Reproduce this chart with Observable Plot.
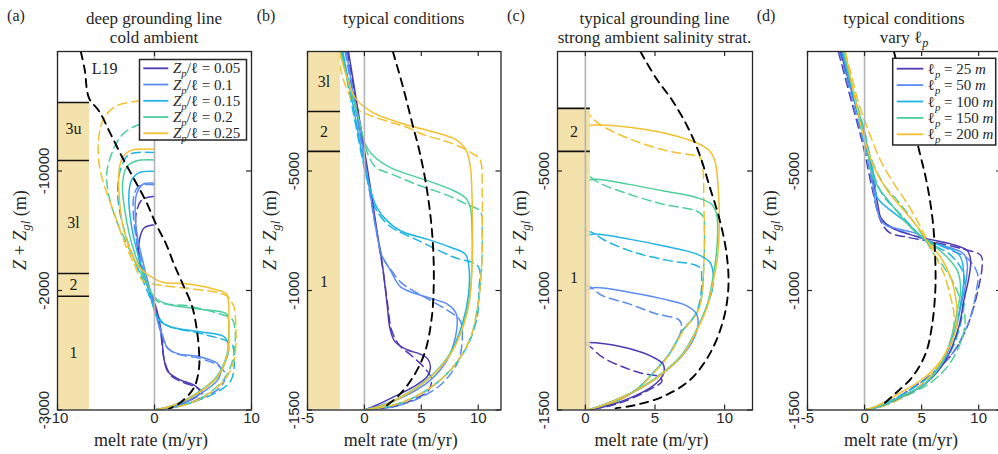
<!DOCTYPE html>
<html><head><meta charset="utf-8">
<script src="https://cdn.jsdelivr.net/npm/d3@7"></script>
<script src="https://cdn.jsdelivr.net/npm/@observablehq/plot@0.6"></script>
<style>
body{margin:0;background:#fff;width:998px;height:454px;overflow:hidden;}
#wrap{position:relative;width:998px;height:454px;overflow:hidden;}
#wrap svg{position:absolute;top:0;}
</style></head><body><div id="wrap"></div>
<script>
// ---------------- data ----------------
const seriesA = ["0.05","0.1","0.15","0.2","0.25"];       // Z_p / ell
const seriesD = ["25","50","100","150","200"];            // ell_p (m)
const titles = [["deep grounding line","cold ambient"],["typical conditions"],["typical grounding line","strong ambient salinity strat."],["typical conditions","vary "]];
const letters = ["(a)","(b)","(c)","(d)"];
const xLabel = "melt rate (m/yr)";

// ticks
const aXTicks = [-10,0,10], aYTicks = [-3000,-2000,-1000], aYLabels = ["-3000","-2000","-10000"];
const bXTicks = [-5,0,5,10], bYTicks = [-1500,-1000,-500], bYLabels = ["-1500","-1000","-5000"];
const cXTicks = [0,5,10],   cYTicks = [-1500,-1000,-500], cYLabels = ["-1500","-1000","-5000"];
const dXTicks = [-5,0,5,10], dYTicks = [-1500,-1000,-500], dYLabels = ["-1500","-1000","-5000"];

// ice layers (bars)
const aBarX = [-10,-6.7], aBarTop = -427, aBarBottom = -3000;
const aLayerEdges = [-427,-912,-1858,-2048], aLayerNames = ["3u","3l","2","1"], aLayerMid = [-644,-1431,-1950,-2519];
const bBarX = [-5,-2.1], bBarTop = 0, bBarBottom = -1500;
const bLayerEdges = [-251,-418], bLayerNames = ["3l","2","1"], bLayerMid = [-126,-335,-966];
const cBarX = [-2,0.36], cBarTop = -238, cBarBottom = -1500;
const cLayerEdges = [-238,-418], cLayerNames = ["2","1"], cLayerMid = [-335,-946];

// L19 reference curves [melt, depth]
const aL19 = [[-7.6,0],[-7.2,-150],[-6.75,-390],[-5.7,-500],[-4.5,-694],[-3.3,-889],[-2.1,-1069],[-0.9,-1250],[0.15,-1444],[1.2,-1611],[2.0,-1778],[2.9,-1944],[3.9,-2139],[4.4,-2350],[4.6,-2525],[4.6,-2642],[4.1,-2808],[2.75,-2933],[1.5,-2990]];
const bL19 = [[2.5,0],[3.4,-150],[4.2,-300],[4.9,-430],[5.5,-580],[5.95,-760],[6.1,-950],[5.9,-1120],[5.3,-1260],[4.3,-1360],[3.0,-1440],[1.7,-1490]];
const cL19 = [[3.95,0],[5.07,-111],[6.28,-208],[7.37,-319],[8.2,-431],[8.94,-569],[9.66,-708],[10.14,-847],[10.27,-986],[9.9,-1125],[8.94,-1264],[7.5,-1375],[5.56,-1444],[3.6,-1479],[2.17,-1493]];
const dL19 = [[2.57,0],[3.7,-210],[4.8,-417],[5.5,-560],[6.0,-720],[6.2,-880],[6.2,-1000],[5.9,-1150],[5.35,-1264],[4.2,-1361],[2.7,-1431],[1.55,-1480]];
const aL19Label = [{t:"L19", x:-5.13, y:-142}];

// panel (a)
const aSolid = [
 [[0,-1450],[-1.05,-1475],[-1.5,-1556],[-1.6,-1722],[-1.05,-1889],[0.15,-2139],[0.67,-2333],[1.0,-2583],[1.4,-2680],[2.7,-2750],[4.1,-2792],[4.6,-2833],[4.45,-2880],[3.1,-2935],[1.7,-2975],[0,-3000]],
 [[0,-1103],[-1.2,-1111],[-1.85,-1194],[-2.0,-1333],[-1.75,-1556],[-1.05,-1806],[-0.35,-2028],[0.33,-2250],[1.0,-2417],[1.35,-2486],[2.4,-2528],[4.8,-2556],[6.5,-2611],[6.85,-2660],[6.5,-2750],[4.8,-2861],[2.4,-2958],[0,-3000]],
 [[0,-1003],[-1.57,-1014],[-2.4,-1083],[-2.65,-1222],[-2.4,-1444],[-1.9,-1639],[-1.2,-1833],[-0.55,-2000],[0,-2167],[0.5,-2250],[1.7,-2306],[4.8,-2347],[7.2,-2389],[7.65,-2472],[7.3,-2600],[6.3,-2740],[4.3,-2865],[2.0,-2960],[0,-3000]],
 [[0,-908],[-1.9,-917],[-2.9,-972],[-3.3,-1111],[-3.1,-1306],[-2.6,-1528],[-1.9,-1722],[-0.9,-1917],[0,-2056],[1.2,-2111],[4.3,-2153],[7.4,-2194],[7.65,-2250],[7.65,-2333],[7.5,-2525],[6.4,-2722],[4.35,-2861],[2.0,-2958],[0,-3000]],
 [[0,-819],[-2.6,-833],[-3.45,-917],[-3.7,-1056],[-3.6,-1250],[-3.3,-1444],[-2.6,-1639],[-1.57,-1806],[-0.55,-1875],[0.85,-1931],[3.25,-1944],[6.0,-1986],[7.4,-2028],[7.65,-2111],[7.65,-2250],[7.55,-2525],[6.5,-2722],[4.45,-2861],[2.05,-2958],[0,-3000]]
];
const aDashed = [
 [[0,-1214],[-0.55,-1217],[-1.4,-1250],[-1.9,-1361],[-1.9,-1500],[-1.6,-1722],[-1.0,-1889],[0.1,-2139],[0.6,-2333],[1.1,-2610],[1.8,-2720],[3.0,-2770],[4.3,-2810],[4.9,-2850],[4.6,-2905],[3.3,-2948],[1.8,-2980],[0,-3000]],
 [[0,-1115],[-1.57,-1125],[-2.1,-1200],[-2.2,-1333],[-1.9,-1556],[-1.2,-1806],[-0.5,-2028],[0.3,-2250],[1.0,-2440],[2.0,-2520],[4.8,-2570],[6.6,-2630],[7.3,-2700],[6.9,-2800],[5.2,-2890],[2.8,-2965],[0,-3000]],
 [[0,-845],[-2.6,-861],[-3.45,-972],[-3.8,-1167],[-3.6,-1333],[-2.9,-1556],[-1.9,-1778],[-0.9,-1972],[-0.2,-2111],[1.0,-2278],[4.8,-2361],[7.9,-2444],[8.2,-2528],[7.9,-2750],[6.2,-2861],[3.4,-2944],[0,-3000]],
 [[0,-600],[-1.57,-611],[-3.3,-694],[-4.3,-833],[-4.9,-1000],[-4.8,-1167],[-4.0,-1400],[-2.9,-1600],[-1.9,-1778],[-0.9,-1930],[0.3,-2090],[3.5,-2130],[6.5,-2190],[8.0,-2240],[8.3,-2330],[8.3,-2450],[8.0,-2600],[7.1,-2750],[5.0,-2890],[2.6,-2967],[0,-3000]],
 [[0,-408],[-1.9,-417],[-3.97,-458],[-5.2,-556],[-5.75,-722],[-5.7,-944],[-5.0,-1167],[-4.1,-1361],[-3.3,-1556],[-2.1,-1778],[-1.2,-1917],[0.85,-1958],[3.9,-1986],[7.4,-2042],[8.05,-2111],[8.2,-2139],[8.4,-2333],[8.2,-2583],[7.2,-2750],[5.1,-2889],[2.7,-2967],[0,-3000]]
];

// panel (b)
const bSolid = [
 [[-1.4,0],[-0.55,-250],[0.3,-500],[1.1,-750],[1.6,-900],[2.0,-1060],[2.25,-1160],[2.7,-1215],[3.75,-1248],[4.9,-1266],[5.55,-1285],[5.8,-1322],[5.5,-1361],[4.3,-1403],[2.6,-1444],[1.1,-1479],[0,-1500]],
 [[-1.6,0],[-0.7,-250],[0.2,-500],[1.05,-750],[1.5,-850],[2.3,-917],[3.2,-986],[5.5,-1028],[7.25,-1056],[8.0,-1090],[8.15,-1118],[8.0,-1194],[7.25,-1292],[5.8,-1375],[4.0,-1431],[2.0,-1472],[0.5,-1493],[0,-1500]],
 [[-1.9,0],[-0.9,-250],[0.1,-500],[0.8,-620],[1.1,-653],[1.7,-694],[3.16,-750],[5.5,-785],[7.55,-819],[8.86,-847],[9.15,-889],[9.15,-1014],[8.6,-1140],[7.45,-1270],[5.7,-1365],[3.7,-1433],[1.7,-1480],[0,-1500]],
 [[-2.1,0],[-1.5,-111],[-0.5,-280],[0.09,-389],[0.68,-431],[2.28,-486],[5.2,-535],[7.55,-576],[8.86,-611],[9.3,-653],[9.45,-736],[9.45,-900],[9.2,-1040],[8.7,-1140],[7.55,-1264],[5.8,-1361],[3.75,-1431],[1.7,-1479],[0,-1500]],
 [[-2.2,0],[-1.6,-100],[-0.8,-195],[0.8,-257],[3.4,-302],[6.0,-336],[8.0,-368],[8.9,-410],[9.3,-480],[9.45,-600],[9.5,-750],[9.45,-900],[9.25,-1040],[8.75,-1140],[7.6,-1264],[5.85,-1361],[3.8,-1431],[1.75,-1479],[0,-1500]]
];
const bDashed = [
 [[-1.5,0],[-0.6,-250],[0.25,-500],[1.1,-760],[1.65,-920],[2.1,-1080],[2.35,-1160],[3.0,-1225],[4.2,-1275],[5.2,-1320],[5.9,-1370],[5.6,-1420],[4.4,-1455],[2.6,-1485],[0,-1500]],
 [[-1.7,0],[-0.75,-250],[0.15,-500],[1.05,-750],[1.6,-860],[2.2,-905],[3.3,-970],[5.0,-1020],[7.2,-1080],[8.4,-1125],[8.6,-1200],[8.2,-1300],[6.8,-1390],[4.6,-1455],[2.2,-1490],[0,-1500]],
 [[-2.0,0],[-1.0,-250],[0.05,-500],[0.7,-620],[1.0,-660],[2.2,-730],[4.7,-790],[7.8,-860],[10.0,-900],[10.05,-1000],[9.9,-1111],[9.0,-1236],[7.55,-1333],[5.5,-1417],[3.16,-1472],[1.1,-1493],[0,-1500]],
 [[-2.2,0],[-1.4,-120],[-0.3,-330],[0.4,-440],[1.0,-485],[2.5,-515],[4.5,-555],[7.2,-600],[9.0,-640],[10.2,-670],[10.35,-750],[10.3,-900],[10.0,-1050],[9.3,-1200],[7.8,-1320],[5.7,-1410],[3.3,-1468],[1.2,-1492],[0,-1500]],
 [[-2.4,0],[-1.8,-125],[-0.6,-240],[0.23,-262],[2.0,-292],[3.75,-317],[5.2,-348],[7.25,-377],[8.7,-405],[9.6,-430],[10.15,-450],[10.35,-600],[10.35,-750],[10.3,-900],[10.0,-1050],[9.3,-1200],[7.8,-1320],[5.7,-1410],[3.3,-1468],[1.2,-1492],[0,-1500]]
];

// panel (c)
const cSolid = [
 [[0,-1218],[0.72,-1219],[3.14,-1243],[4.83,-1278],[5.56,-1306],[5.67,-1333],[5.5,-1361],[4.83,-1400],[3.6,-1440],[1.93,-1477],[0.6,-1496],[0,-1500]],
 [[0,-1000],[0.6,-988],[3.14,-1007],[5.56,-1035],[7.25,-1063],[7.97,-1097],[8.1,-1139],[7.8,-1200],[7.0,-1270],[5.8,-1336],[4.1,-1405],[2.17,-1459],[0.72,-1490],[0,-1500]],
 [[0,-771],[0.72,-764],[3.14,-785],[5.56,-813],[7.97,-847],[8.94,-882],[9.18,-931],[9.1,-1000],[8.7,-1069],[7.97,-1167],[7.0,-1264],[5.8,-1333],[4.1,-1403],[2.17,-1458],[0.72,-1490],[0,-1500]],
 [[0,-542],[0.72,-535],[3.14,-556],[5.56,-583],[7.97,-611],[9.06,-639],[9.42,-681],[9.5,-750],[9.4,-850],[9.18,-940],[8.7,-1069],[7.97,-1167],[7.0,-1264],[5.8,-1333],[4.1,-1403],[2.17,-1458],[0.72,-1490],[0,-1500]],
 [[0,-313],[0.72,-308],[3.14,-317],[5.56,-340],[7.97,-382],[8.94,-417],[9.3,-458],[9.54,-569],[9.6,-764],[9.45,-880],[9.22,-950],[8.75,-1069],[8.0,-1167],[7.05,-1264],[5.85,-1333],[4.15,-1403],[2.2,-1458],[0.75,-1490],[0,-1500]]
];
const cDashed = [
 [[0,-1225],[0.36,-1236],[1.2,-1278],[2.66,-1319],[4.1,-1347],[5.3,-1361],[5.5,-1380],[4.6,-1415],[3.3,-1452],[1.8,-1482],[0,-1500]],
 [[0,-975],[0.48,-990],[1.2,-1021],[3.14,-1056],[5.07,-1097],[6.76,-1125],[6.9,-1160],[6.04,-1264],[4.83,-1347],[3.6,-1417],[2.17,-1465],[0.72,-1493],[0,-1500]],
 [[0,-750],[0.48,-757],[1.45,-792],[3.14,-833],[4.35,-854],[6.0,-875],[8.2,-903],[8.35,-950],[8.25,-1035],[7.9,-1100],[7.0,-1167],[6.04,-1264],[4.83,-1347],[3.6,-1417],[2.17,-1465],[0.72,-1493],[0,-1500]],
 [[0,-472],[0.3,-520],[0.97,-549],[3.14,-597],[5.56,-639],[7.97,-667],[8.45,-690],[8.55,-760],[8.5,-900],[8.33,-1030],[7.97,-1097],[7.0,-1167],[6.04,-1264],[4.83,-1347],[3.6,-1417],[2.17,-1465],[0.72,-1493],[0,-1500]],
 [[0,-243],[0.48,-278],[1.45,-319],[3.6,-375],[6.0,-417],[7.7,-433],[8.2,-440],[8.45,-500],[8.5,-625],[8.55,-760],[8.5,-900],[8.35,-1030],[8.0,-1097],[7.05,-1167],[6.08,-1264],[4.87,-1347],[3.64,-1417],[2.2,-1465],[0.75,-1493],[0,-1500]]
];

// panel (d)
const dSolid = [
 [[-2.1,0],[-1.0,-190],[-0.06,-344],[0.82,-553],[1.2,-650],[1.4,-693],[2.28,-735],[3.75,-763],[5.5,-784],[7.54,-805],[9.0,-833],[9.3,-875],[9.15,-944],[8.7,-1042],[8.27,-1150],[7.1,-1292],[5.35,-1389],[3.3,-1444],[1.25,-1486],[0,-1500]],
 [[-2.0,0],[-0.95,-195],[0.0,-350],[0.75,-560],[1.1,-665],[1.7,-721],[2.87,-742],[4.6,-763],[5.4,-789],[7.83,-826],[8.7,-847],[9.0,-889],[8.86,-972],[8.42,-1069],[8.0,-1160],[6.95,-1292],[5.3,-1389],[3.25,-1444],[1.2,-1486],[0,-1500]],
 [[-1.95,0],[-0.9,-200],[0.05,-360],[0.9,-540],[1.1,-610],[2.28,-665],[3.45,-707],[4.9,-770],[5.4,-789],[7.83,-833],[8.42,-861],[8.7,-944],[8.42,-1056],[7.95,-1160],[6.9,-1292],[5.3,-1389],[3.2,-1444],[1.2,-1486],[0,-1500]],
 [[-1.85,0],[-0.8,-200],[0.1,-370],[0.82,-535],[2.57,-653],[4.33,-750],[5.4,-789],[6.96,-847],[8.13,-917],[8.42,-1000],[8.13,-1083],[7.7,-1180],[6.9,-1292],[5.3,-1389],[3.2,-1444],[1.2,-1486],[0,-1500]],
 [[-1.7,0],[-0.8,-205],[-0.06,-359],[0.82,-484],[1.99,-582],[3.45,-665],[4.9,-749],[5.4,-789],[6.67,-861],[7.54,-944],[7.98,-1028],[8.13,-1111],[7.98,-1167],[7.1,-1264],[5.35,-1361],[3.0,-1431],[1.25,-1479],[0,-1500]]
];
const dDashed = [
 [[-2.3,0],[-1.2,-200],[-0.1,-400],[0.6,-560],[1.1,-660],[1.4,-707],[2.13,-756],[3.75,-777],[5.8,-795],[8.5,-825],[10.2,-854],[10.3,-900],[10.0,-986],[9.5,-1080],[8.86,-1167],[7.7,-1264],[5.94,-1347],[3.9,-1417],[1.84,-1472],[0,-1500]],
 [[-2.2,0],[-1.1,-200],[0.0,-400],[0.7,-560],[1.3,-690],[2.2,-730],[4.0,-765],[5.4,-790],[7.5,-830],[9.0,-865],[9.9,-930],[9.8,-1000],[9.4,-1090],[8.7,-1180],[7.6,-1270],[5.9,-1350],[3.85,-1420],[1.8,-1473],[0,-1500]],
 [[-2.0,0],[-0.95,-200],[0.1,-400],[0.9,-530],[1.6,-600],[3.3,-690],[5.3,-790],[7.5,-850],[8.6,-920],[8.8,-1000],[8.5,-1120],[7.6,-1250],[5.9,-1350],[3.85,-1420],[1.8,-1473],[0,-1500]],
 [[-1.9,0],[-0.8,-200],[0.0,-330],[0.53,-442],[1.84,-568],[2.87,-623],[4.0,-693],[5.2,-777],[6.1,-850],[6.96,-903],[7.83,-972],[8.7,-1083],[8.8,-1140],[8.4,-1220],[7.4,-1310],[5.8,-1385],[3.6,-1442],[1.5,-1486],[0,-1500]],
 [[-1.7,0],[-1.1,-110],[-0.5,-219],[0.23,-317],[1.4,-456],[2.57,-553],[3.75,-637],[4.76,-721],[5.5,-791],[6.1,-847],[6.96,-931],[7.54,-1028],[7.83,-1097],[7.7,-1180],[6.9,-1280],[5.4,-1375],[3.6,-1440],[1.5,-1485],[0,-1500]]
];

// ---------------- style / layout ----------------
const serif = "Liberation Serif";
const sans = "Liberation Sans";
const colors = ["#4b3bb4","#5b8cf3","#1db4e6","#4ccf9c","#f2c02f"];
const barColor = "#f3dea1", axisColor = "#262626";
const MT = 51, MB = 44.5, H = 454;

const panels = [
 {left:0,   width:254, mL:57, mR:3, x:[-10,10], y:[-3000,0], solid:aSolid, dashed:aDashed, l19:aL19, xt:aXTicks, yt:aYTicks, yl:aYLabels,
  bar:{x:aBarX, top:aBarTop, bottom:aBarBottom, edges:aLayerEdges, names:aLayerNames, mids:aLayerMid}},
 {left:254, width:250, mL:53, mR:3.5, x:[-5,12], y:[-1500,0], solid:bSolid, dashed:bDashed, l19:bL19, xt:bXTicks, yt:bYTicks, yl:bYLabels,
  bar:{x:bBarX, top:bBarTop, bottom:bBarBottom, edges:bLayerEdges, names:bLayerNames, mids:bLayerMid}},
 {left:504, width:251, mL:53, mR:3, x:[-2,12], y:[-1500,0], solid:cSolid, dashed:cDashed, l19:cL19, xt:cXTicks, yt:cYTicks, yl:cYLabels,
  bar:{x:cBarX, top:cBarTop, bottom:cBarBottom, edges:cLayerEdges, names:cLayerNames, mids:cLayerMid}},
 {left:755, width:249, mL:52, mR:3, x:[-5,12], y:[-1500,0], solid:dSolid, dashed:dDashed, l19:dL19, xt:dXTicks, yt:dYTicks, yl:dYLabels, bar:null}
];

const wrap = document.getElementById("wrap");

panels.forEach((p, pi) => {
  const [xMin, xMax] = p.x, [yMin, yMax] = p.y;
  const innerW = p.width - p.mL - p.mR, innerH = H - MT - MB;
  const kx = 5 * (xMax - xMin) / innerW, ky = 5 * (yMax - yMin) / innerH;
  const marks = [];
  p.dashed.forEach((c, i) => marks.push(Plot.line(c, {x: d => d[0], y: d => d[1], stroke: colors[i], strokeWidth: 1.5, strokeDasharray: "9,5", curve: "catmull-rom", clip: true})));
  p.solid.forEach((c, i) => marks.push(Plot.line(c, {x: d => d[0], y: d => d[1], stroke: colors[i], strokeWidth: 1.5, curve: "catmull-rom", clip: true})));
  if (p.bar) {
    const b = p.bar;
    marks.push(Plot.rect([{x1: b.x[0], x2: b.x[1], y1: b.bottom, y2: b.top}], {x1: "x1", x2: "x2", y1: "y1", y2: "y2", fill: barColor, fillOpacity: 0.88}));
    marks.push(Plot.ruleY(b.edges.map(e => ({y: e, x1: b.x[0], x2: b.x[1]})), {y: "y", x1: "x1", x2: "x2", stroke: "#111", strokeWidth: 1.6}));
    marks.push(Plot.text(b.names.map((n, i) => ({t: n, y: b.mids[i], x: (b.x[0] + b.x[1]) / 2})), {x: "x", y: "y", text: "t", fontFamily: serif, fontSize: 16, fill: "#222"}));
  }
  marks.push(Plot.ruleX([0], {stroke: "#b4b4b4", strokeWidth: 1.6}));
  marks.push(Plot.line(p.l19, {x: d => d[0], y: d => d[1], stroke: "#000", strokeWidth: 1.9, strokeDasharray: "8,6", curve: "catmull-rom", clip: true}));
  if (pi === 0) marks.push(Plot.text(aL19Label, {x: "x", y: "y", text: "t", fontFamily: serif, fontSize: 16, fill: "#222"}));
  marks.push(Plot.frame({stroke: axisColor, strokeWidth: 1.3}));
  marks.push(Plot.ruleX(p.xt.map(v => ({x: v, a: yMin, b: yMin + ky})), {x: "x", y1: "a", y2: "b", stroke: axisColor, strokeWidth: 1.2}));
  marks.push(Plot.ruleX(p.xt.map(v => ({x: v, a: yMax, b: yMax - ky})), {x: "x", y1: "a", y2: "b", stroke: axisColor, strokeWidth: 1.2}));
  marks.push(Plot.ruleY(p.yt.map(v => ({y: v, a: xMin, b: xMin + kx})), {y: "y", x1: "a", x2: "b", stroke: axisColor, strokeWidth: 1.2}));
  marks.push(Plot.ruleY(p.yt.map(v => ({y: v, a: xMax, b: xMax - kx})), {y: "y", x1: "a", x2: "b", stroke: axisColor, strokeWidth: 1.2}));
  marks.push(Plot.text(p.xt, {x: d => d, frameAnchor: "bottom", dy: 13, text: d => String(d), fontFamily: sans, fontSize: 15, fill: "#262626"}));
  marks.push(Plot.text(p.yt, {y: d => d, frameAnchor: "left", dx: -13.5, rotate: -90, textAnchor: "middle", text: (d, i) => p.yl[i], fontFamily: sans, fontSize: 15, fill: "#262626"}));

  const svg = Plot.plot({
    width: p.width, height: H, marginLeft: p.mL, marginRight: p.mR, marginTop: MT, marginBottom: MB,
    x: {domain: p.x, axis: null}, y: {domain: p.y, axis: null},
    style: {background: "transparent", overflow: "visible"},
    marks
  });
  svg.style.left = p.left + "px";
  wrap.appendChild(svg);
});

// ---------------- overlay: titles, letters, axis labels, legends ----------------
const ov = d3.select(wrap).append("svg").attr("width", 998).attr("height", H).style("left", "0px");

function mathText(g, parts, attrs) {
  const t = g.append("text").attr("style", "white-space:pre").attr("font-family", serif).attr("fill", "#262626");
  Object.entries(attrs).forEach(([k, v]) => t.attr(k, v));
  let shifted = false;
  parts.forEach(pt => {
    const s = t.append("tspan").text(pt.t);
    if (pt.i) s.attr("font-style", "italic");
    if (pt.sub && !shifted) { s.attr("dy", 4).attr("font-size", "0.72em"); shifted = true; }
    else if (!pt.sub && shifted) { s.attr("dy", -4); shifted = false; }
  });
  return t;
}

panels.forEach((p, pi) => {
  const fl = p.left + p.mL, fr = p.left + p.width - p.mR, cx = (fl + fr) / 2;
  ov.append("text").attr("x", fl - 41).attr("y", 21).attr("text-anchor", "middle").attr("font-family", serif).attr("font-size", 16).attr("fill", "#262626").text(letters[pi]);
  titles[pi].forEach((line, li) => {
    const parts = [{t: line}];
    if (pi === 3 && li === 1) parts.push({t: "ℓ"}, {t: "p", i: 1, sub: 1});
    mathText(ov, parts, {x: cx, y: 24 + li * 19, "text-anchor": "middle", "font-size": 17});
  });
  const yl = ov.append("g").attr("transform", `translate(${fl - 37},230) rotate(-90)`);
  mathText(yl, [{t: "Z", i: 1}, {t: " + "}, {t: "Z", i: 1}, {t: "gl", i: 1, sub: 1}, {t: " (m)"}], {x: 0, y: 6, "text-anchor": "middle", "font-size": 18});
  mathText(ov, [{t: xLabel}], {x: cx - 3, y: 446, "text-anchor": "middle", "font-size": 18});
});

function legend(x, y, w, h, y0, step, lx1, lx2, tx, labels, partsFn) {
  ov.append("rect").attr("x", x).attr("y", y).attr("width", w).attr("height", h).attr("fill", "#fff").attr("stroke", axisColor).attr("stroke-width", 1.5);
  labels.forEach((v, i) => {
    const yy = y0 + i * step;
    ov.append("line").attr("x1", lx1).attr("x2", lx2).attr("y1", yy).attr("y2", yy).attr("stroke", colors[i]).attr("stroke-width", 1.8);
    mathText(ov, partsFn(v), {x: tx, y: yy + 5, "font-size": 15});
  });
}
legend(139.5, 59.5, 107, 80.5, 68.3, 16.25, 143.3, 168.3, 173, seriesA,
  v => [{t: "Z", i: 1}, {t: "p", i: 1, sub: 1}, {t: "/"}, {t: "ℓ"}, {t: " = " + v}]);
legend(892.7, 58.3, 103, 86.7, 68.7, 16.4, 896.7, 923.3, 927.7, seriesD,
  v => [{t: "ℓ"}, {t: "p", i: 1, sub: 1}, {t: " = " + v + " "}, {t: "m", i: 1}]);
</script></body></html>
